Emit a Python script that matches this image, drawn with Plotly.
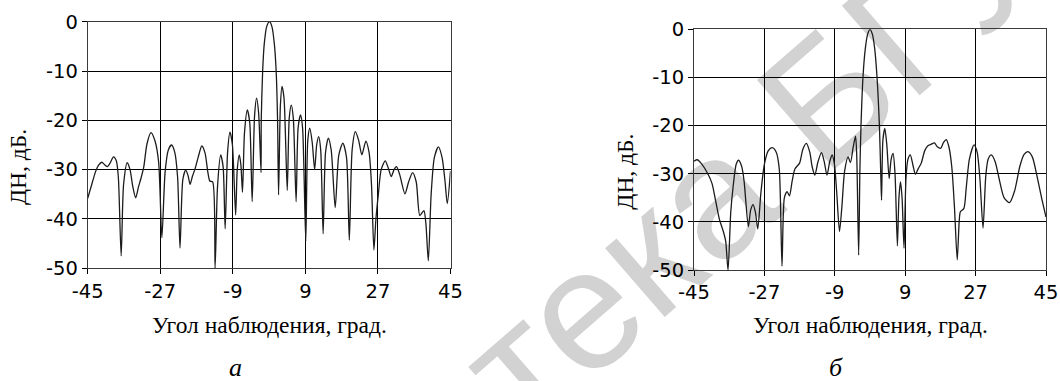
import plotly.graph_objects as go

# Radiation pattern (a): observation angle, deg / level, dB
angle_a = [
    -45.0, -44.0, -43.0, -42.3, -41.5, -40.8, -40.1, -39.4, -38.6, -37.9,
    -37.4, -36.7, -36.1, -35.2, -34.5, -33.8, -33.1, -32.4, -31.8, -31.1,
    -30.3, -29.3, -28.3, -27.4, -26.6, -25.8, -25.0, -24.2, -23.4, -22.7,
    -22.1, -21.4, -20.7, -20.1, -19.6, -19.0, -18.4, -17.6, -16.7, -15.9,
    -15.2, -14.7, -14.0, -13.4, -12.8, -12.0, -11.4, -10.9, -10.3, -9.7,
    -9.1, -8.3, -7.9, -7.4, -7.0, -6.6, -6.1, -5.4, -4.8, -4.2,
    -3.6, -3.1, -2.6, -2.0, -1.95, -1.6, -1.2, -0.6, 0.1, 0.7,
    1.3, 1.75, 2.1, 2.35, 2.8, 3.2, 3.7, 4.5, 5.0, 5.5,
    6.0, 6.7, 7.2, 7.8, 8.3, 9.1, 9.6, 10.1, 10.7, 11.3,
    11.8, 12.3, 12.8, 13.4, 14.0, 14.7, 15.4, 16.4, 17.3, 18.3,
    19.2, 19.9, 20.6, 21.4, 22.2, 23.0, 24.0, 24.8, 25.4, 26.0,
    26.5, 27.1, 27.8, 28.8, 29.5, 30.3, 31.0, 31.6, 32.4, 33.7,
    34.6, 35.6, 36.5, 37.4, 38.4, 38.9, 39.5, 40.2, 41.0, 42.0,
    42.9, 43.6, 44.2, 45.0,
]
level_a = [
    -35.8, -33.0, -30.3, -29.1, -28.5, -29.0, -29.4, -28.6, -27.4, -28.2,
    -31.5, -47.5, -33.0, -28.6, -30.0, -33.5, -35.7, -33.5, -31.8, -29.5,
    -24.8, -22.5, -24.2, -28.5, -43.8, -30.5, -26.0, -25.0, -26.5, -31.5,
    -45.9, -32.0, -30.1, -31.2, -33.0, -31.3, -29.9, -27.5, -25.2, -26.6,
    -30.5, -32.3, -32.5, -50.0, -33.5, -27.0, -29.5, -42.0, -26.5, -22.4,
    -25.0, -39.2, -30.0, -27.0, -29.0, -34.6, -22.5, -17.9, -20.5, -36.5,
    -19.0, -15.5, -18.5, -30.6, -20.0, -10.0, -4.5, -1.0, 0.0, -1.0,
    -4.5, -10.0, -20.0, -35.1, -17.0, -13.1, -15.5, -34.2, -19.5, -16.9,
    -19.5, -36.5, -21.5, -18.9, -21.5, -44.5, -24.0, -21.6, -24.5, -30.0,
    -25.0, -23.3, -26.0, -43.0, -26.5, -23.6, -26.0, -37.7, -27.0, -24.6,
    -27.5, -44.3, -26.0, -22.3, -24.0, -27.0, -24.2, -26.5, -33.0, -46.3,
    -40.0, -35.0, -30.0, -28.2, -29.5, -31.4, -30.0, -29.4, -31.0, -34.9,
    -32.5, -30.6, -32.5, -39.3, -38.3, -41.0, -48.5, -35.0, -27.5, -25.4,
    -27.5, -32.0, -36.9, -30.3,
]

# Radiation pattern (б)
angle_b = [
    -45.0, -44.2, -43.0, -41.6, -40.4, -39.5, -38.5, -37.5, -36.9, -36.3,
    -35.6, -35.0, -34.2, -33.6, -32.8, -32.2, -31.1, -30.5, -29.9, -29.3,
    -28.7, -27.9, -27.0, -26.0, -25.0, -24.0, -23.2, -22.5, -21.9, -21.2,
    -20.6, -19.9, -19.2, -18.0, -17.2, -16.3, -15.4, -14.8, -14.1, -13.3,
    -12.4, -11.7, -11.0, -10.3, -9.7, -9.1, -8.5, -7.8, -7.2, -6.5,
    -5.6, -5.0, -4.3, -3.7, -3.4, -2.9, -2.6, -2.3, -1.8, -1.2,
    -0.6, 0.0, 0.6, 1.2, 1.8, 2.4, 2.75, 2.95, 3.3, 3.8,
    4.3, 4.9, 5.4, 5.9, 6.4, 7.0, 7.4, 7.8, 8.2, 8.7,
    9.2, 9.7, 10.3, 11.0, 11.6, 12.3, 13.1, 14.0, 14.8, 15.6,
    16.5, 17.2, 18.1, 18.8, 19.5, 20.2, 20.9, 21.6, 22.3, 22.8,
    23.1, 24.0, 24.6, 25.4, 26.6, 27.4, 28.1, 28.9, 29.6, 30.2,
    31.0, 32.0, 33.0, 34.3, 35.7, 37.0, 38.3, 39.4, 40.4, 41.5,
    42.7, 44.0, 45.0,
]
level_b = [
    -27.4, -27.1, -28.0, -29.8, -32.0, -35.5, -39.5, -42.0, -44.0, -50.0,
    -38.0, -32.7, -28.0, -27.2, -28.5, -31.5, -41.0, -37.5, -36.4, -38.0,
    -41.5, -34.0, -28.0, -25.2, -24.6, -25.5, -29.0, -49.2, -35.0, -33.7,
    -34.6, -31.5, -29.0, -27.8, -25.0, -23.7, -25.5, -28.5, -30.3, -27.5,
    -25.6, -27.5, -30.3, -27.5, -26.1, -28.0, -34.0, -42.0, -37.0, -29.5,
    -26.5, -27.7, -24.5, -22.2, -26.0, -46.9, -30.0, -20.0, -10.0, -4.0,
    -1.0, 0.0, -1.0, -4.0, -10.0, -20.0, -30.0, -35.5, -23.0, -20.6,
    -24.0, -31.0, -27.0, -25.8, -30.0, -45.0, -35.0, -31.7, -35.0, -45.5,
    -31.0, -27.0, -26.1, -28.3, -30.1, -29.0, -27.8, -25.2, -24.2, -23.9,
    -23.6, -24.4, -24.7, -23.5, -22.9, -24.5, -28.5, -37.0, -47.9, -40.0,
    -37.9, -37.2, -33.0, -27.0, -24.0, -25.5, -31.0, -41.3, -30.5, -27.0,
    -26.1, -27.5, -31.0, -35.0, -36.0, -33.5, -28.5, -26.0, -25.4, -26.5,
    -30.5, -35.5, -39.0,
]

x_ticks = [-45, -27, -9, 9, 27, 45]
y_ticks = [0, -10, -20, -30, -40, -50]
x_title = "Угол наблюдения, град."
y_title = "ДН, дБ."
panel_labels = ["а", "б"]
watermark = "Библиотека БГУИР"

W, H = 1060, 381
SANS = "DejaVu Sans, Arial, sans-serif"
SERIF = "Liberation Serif, Times New Roman, serif"
WM_FONT = "Liberation Sans, Arial, sans-serif"

fig = go.Figure()
line_style = dict(color="#1c1c1c", width=1.3, shape="spline", smoothing=0.7)
fig.add_trace(go.Scatter(x=angle_a, y=level_a, mode="lines", line=line_style,
                         xaxis="x", yaxis="y", showlegend=False, hoverinfo="skip"))
fig.add_trace(go.Scatter(x=angle_b, y=level_b, mode="lines", line=line_style,
                         xaxis="x2", yaxis="y2", showlegend=False, hoverinfo="skip"))


def px_x(v):
    return v / W


def px_y(v):
    return 1 - v / H


tick_font = dict(family=SANS, size=19.5, color="#000000")
xa = dict(range=[-45, 45], tickvals=x_ticks, ticktext=[str(t) for t in x_ticks],
          showgrid=True, gridcolor="#000000", gridwidth=1,
          showline=True, linecolor="#3a3a3a", linewidth=1, mirror=True,
          ticks="outside", ticklen=5, tickcolor="#000000", tickwidth=1,
          tickfont=tick_font, zeroline=False, fixedrange=True, automargin=False)
ya = dict(range=[-50, 0], tickvals=y_ticks, ticktext=[str(t) for t in y_ticks],
          showgrid=True, gridcolor="#000000", gridwidth=1,
          showline=True, linecolor="#3a3a3a", linewidth=1, mirror=True,
          ticks="outside", ticklen=5, tickcolor="#000000", tickwidth=1,
          tickfont=tick_font, zeroline=False, fixedrange=True, automargin=False)

# plot-area boxes in pixels: (left, right, top, bottom)
box_a = (87.7, 450.5, 21.7, 268.3)
box_b = (694.0, 1046.0, 29.3, 270.0)

fig.update_layout(
    width=W, height=H,
    margin=dict(l=0, r=0, t=0, b=0, pad=0, autoexpand=False),
    paper_bgcolor="white",
    plot_bgcolor="rgba(0,0,0,0)",
    xaxis=dict(xa, domain=[px_x(box_a[0]), px_x(box_a[1])], anchor="y"),
    yaxis=dict(ya, domain=[px_y(box_a[3]), px_y(box_a[2])], anchor="x"),
    xaxis2=dict(xa, domain=[px_x(box_b[0]), px_x(box_b[1])], anchor="y2"),
    yaxis2=dict(ya, domain=[px_y(box_b[3]), px_y(box_b[2])], anchor="x2"),
)

annotations = []
for box, lab, ytx in ((box_a, panel_labels[0], 18), (box_b, panel_labels[1], 625)):
    cx = (box[0] + box[1]) / 2
    annotations.append(dict(text=x_title, x=px_x(cx), y=px_y(325), xref="paper", yref="paper",
                            showarrow=False, xanchor="center", yanchor="middle",
                            font=dict(family=SERIF, size=23.5, color="#000000")))
    annotations.append(dict(text=y_title, x=px_x(ytx), y=px_y((box[2] + box[3]) / 2 + 22),
                            xref="paper", yref="paper", showarrow=False, textangle=-90,
                            xanchor="center", yanchor="middle",
                            font=dict(family=SERIF, size=23.5, color="#000000")))
    annotations.append(dict(text="<i>" + lab + "</i>", x=px_x(cx - 34), y=px_y(367),
                            xref="paper", yref="paper", showarrow=False,
                            xanchor="center", yanchor="middle",
                            font=dict(family=SERIF, size=26, color="#000000")))
fig.update_layout(annotations=annotations)

# faint diagonal library stamp behind the charts
cxw, cyw, half = 612, 262, 200
cos_a, sin_a = 0.755, 0.656
fig.add_shape(type="line", xref="paper", yref="paper", layer="below",
              x0=px_x(cxw - half * cos_a), y0=px_y(cyw + half * sin_a),
              x1=px_x(cxw + half * cos_a), y1=px_y(cyw - half * sin_a),
              line=dict(width=0, color="rgba(0,0,0,0)"),
              label=dict(text=watermark, textangle=-41, textposition="middle",
                         xanchor="center", yanchor="middle",
                         font=dict(family=WM_FONT, size=172, color="#d2d2d2")))

fig.write_html("out.html")
